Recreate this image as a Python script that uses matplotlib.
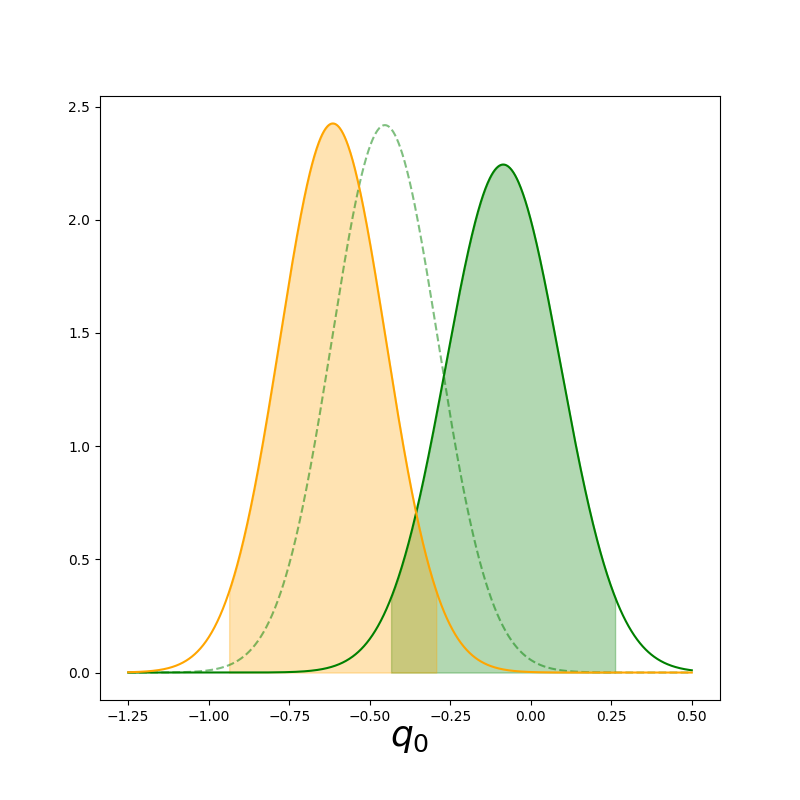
import numpy as np
import matplotlib
matplotlib.use("Agg")
import matplotlib.pyplot as plt

# Gaussian posterior parameters
names = ["orange", "shifted", "green"]
means = [-0.6145, -0.453, -0.0855]
sigmas = [0.1645, 0.1650, 0.1778]
# 95% shaded intervals (mean +/- 1.96 sigma)
fill_lo = [-0.937, -0.434]
fill_hi = [-0.292, 0.263]
x_range = [-1.25, 0.5]

def pdf(x, m, s):
    return np.exp(-0.5 * ((x - m) / s) ** 2) / (s * np.sqrt(2 * np.pi))

fig = plt.figure(figsize=(8, 8), dpi=100)
ax = fig.add_axes([0.125, 0.125, 0.775, 0.755])

x = np.linspace(x_range[0], x_range[1], 1000)

# dashed shifted curve
ax.plot(x, pdf(x, means[1], sigmas[1]), color="green", ls="--", alpha=0.5, lw=1.5)

# green curve with fill
yg = pdf(x, means[2], sigmas[2])
ax.plot(x, yg, color="green", lw=1.5)
mg = (x >= fill_lo[1]) & (x <= fill_hi[1])
ax.fill_between(x[mg], 0, yg[mg], color="green", alpha=0.3)

# orange curve with fill
yo = pdf(x, means[0], sigmas[0])
ax.plot(x, yo, color="orange", lw=1.5)
mo = (x >= fill_lo[0]) & (x <= fill_hi[0])
ax.fill_between(x[mo], 0, yo[mo], color="orange", alpha=0.3)

ax.set_xlabel("$q_0$", fontsize=26, labelpad=-2)
fig.savefig("out.png", dpi=100)
